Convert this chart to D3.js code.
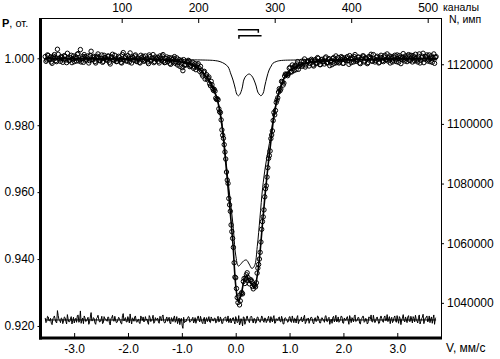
<!DOCTYPE html>
<html><head><meta charset="utf-8">
<script src="https://cdn.jsdelivr.net/npm/d3@7"></script>
<style>
body{margin:0;background:#fff}
svg{display:block}
text{font-family:"Liberation Sans",Arial,sans-serif;fill:#000}
</style>
</head><body>
<svg id="c" width="500" height="359"></svg>
<script>
// ---- tick values ----
const channelTicks = [100, 200, 300, 400, 500];
const velocityTicks = [-3, -2, -1, 0, 1, 2, 3];
const pTicks = [0.92, 0.94, 0.96, 0.98, 1.00];
const countTicks = [1040000, 1060000, 1080000, 1100000, 1120000];
const baseCounts = 1122000;          // counts at P = 1
const residualBase = 0.9218;         // level of the residual trace

// ---- measured relative transmission, channels 0..511 ----
const transmission = [
1.0005,0.9991,0.9995,1.0010,1.0008,0.9996,0.9997,1.0004,0.9989,0.9985,1.0002,1.0006,1.0011,1.0001,0.9993,0.9990,
1.0027,1.0012,1.0000,0.9998,0.9991,1.0005,1.0003,0.9988,0.9996,1.0008,1.0006,0.9995,0.9987,1.0015,1.0001,0.9993,
0.9994,1.0002,1.0009,0.9987,0.9998,1.0007,0.9990,1.0000,1.0004,0.9992,1.0012,1.0014,0.9992,0.9997,1.0026,0.9989,
0.9999,1.0005,0.9988,1.0011,1.0005,0.9994,0.9996,1.0001,1.0007,0.9986,0.9993,1.0008,1.0021,0.9996,0.9997,1.0006,
1.0003,0.9990,0.9986,1.0003,1.0006,1.0013,1.0001,0.9993,0.9994,1.0000,1.0010,0.9988,0.9991,1.0009,1.0002,1.0001,
0.9997,0.9994,1.0007,1.0006,0.9988,0.9983,1.0003,1.0004,1.0012,0.9996,0.9994,1.0009,0.9998,0.9990,0.9991,0.9998,
1.0006,1.0003,0.9996,0.9988,0.9986,1.0011,1.0017,0.9995,1.0001,1.0005,0.9992,0.9992,1.0008,1.0000,0.9989,1.0016,
0.9999,0.9986,1.0004,1.0002,0.9994,1.0007,1.0010,0.9992,0.9990,0.9997,0.9999,0.9988,0.9986,1.0009,1.0002,0.9996,
1.0006,0.9991,0.9994,1.0007,0.9997,1.0000,0.9989,0.9984,1.0010,1.0005,0.9992,0.9995,1.0001,1.0011,0.9987,0.9990,
1.0004,0.9998,0.9998,1.0003,0.9991,0.9986,1.0007,1.0000,0.9994,1.0007,1.0011,0.9992,0.9987,0.9988,0.9999,1.0004,
0.9990,0.9996,1.0002,0.9985,0.9982,1.0001,0.9996,0.9989,1.0000,1.0005,0.9985,0.9989,1.0001,0.9980,0.9988,0.9996,
0.9976,0.9991,0.9994,0.9972,0.9963,0.9996,0.9979,0.9982,0.9980,0.9989,0.9989,0.9994,0.9992,0.9975,0.9977,0.9979,
0.9983,0.9988,0.9970,0.9974,0.9984,0.9966,0.9974,0.9980,0.9984,0.9971,0.9961,0.9976,0.9964,0.9953,0.9947,0.9959,
0.9961,0.9938,0.9947,0.9951,0.9936,0.9940,0.9944,0.9924,0.9918,0.9931,0.9921,0.9910,0.9904,0.9907,0.9902,0.9881,
0.9877,0.9879,0.9876,0.9849,0.9840,0.9838,0.9816,0.9786,0.9770,0.9761,0.9742,0.9720,0.9699,0.9660,0.9636,0.9626,
0.9581,0.9562,0.9543,0.9502,0.9482,0.9462,0.9435,0.9389,0.9346,0.9344,0.9312,0.9285,0.9270,0.9290,0.9263,0.9275,
0.9296,0.9300,0.9296,0.9333,0.9342,0.9327,0.9341,0.9353,0.9359,0.9345,0.9336,0.9326,0.9337,0.9338,0.9333,0.9318,
0.9311,0.9324,0.9321,0.9317,0.9329,0.9358,0.9373,0.9384,0.9400,0.9420,0.9451,0.9489,0.9512,0.9526,0.9547,0.9586,
0.9610,0.9619,0.9645,0.9673,0.9701,0.9709,0.9723,0.9760,0.9771,0.9783,0.9814,0.9838,0.9831,0.9844,0.9868,0.9875,
0.9882,0.9899,0.9909,0.9903,0.9908,0.9931,0.9929,0.9920,0.9926,0.9947,0.9953,0.9951,0.9952,0.9948,0.9954,0.9970,
0.9973,0.9960,0.9959,0.9980,0.9971,0.9963,0.9977,0.9977,0.9966,0.9983,0.9990,0.9967,0.9976,0.9980,0.9982,0.9991,
0.9976,0.9980,0.9991,0.9998,0.9974,0.9980,0.9990,0.9989,0.9993,0.9977,0.9985,0.9994,0.9997,0.9992,0.9980,0.9977,
0.9992,0.9996,0.9984,0.9987,1.0002,1.0000,0.9989,0.9981,0.9981,0.9995,0.9997,0.9991,0.9990,0.9983,1.0001,1.0004,
0.9987,0.9986,0.9996,0.9999,0.9978,0.9989,0.9993,0.9981,0.9999,1.0002,0.9985,0.9995,1.0007,0.9987,0.9990,1.0002,
0.9986,0.9989,0.9997,1.0005,1.0002,0.9985,0.9985,1.0001,0.9996,0.9994,1.0001,1.0005,0.9993,0.9982,1.0008,0.9999,
0.9987,1.0002,0.9998,0.9989,1.0005,1.0011,0.9991,0.9993,0.9996,1.0004,1.0003,0.9986,0.9984,0.9998,1.0001,1.0007,
1.0007,0.9989,0.9992,1.0001,0.9998,0.9984,0.9987,1.0005,1.0004,1.0000,1.0012,0.9992,0.9991,1.0011,0.9998,0.9989,
0.9994,1.0003,1.0006,0.9997,0.9986,0.9988,1.0003,1.0009,1.0001,0.9993,0.9990,1.0004,1.0009,0.9995,0.9996,1.0013,
0.9992,1.0001,1.0007,0.9986,1.0000,1.0005,0.9989,0.9994,1.0004,1.0009,0.9995,0.9990,1.0010,0.9999,0.9988,1.0008,
1.0003,0.9984,0.9998,1.0004,1.0014,0.9997,0.9992,1.0007,1.0000,0.9990,1.0007,1.0011,0.9994,0.9993,1.0009,1.0001,
0.9989,1.0008,1.0004,0.9992,1.0012,1.0000,0.9995,0.9989,1.0006,1.0013,0.9986,0.9994,1.0002,1.0006,1.0015,0.9987,
0.9997,1.0004,1.0005,1.0010,0.9992,0.9996,1.0010,0.9990,1.0001,1.0007,0.9988,1.0002,1.0013,0.9985,1.0003,1.0005
];

// ---- residuals (data - fit), channels 0..511, in units of 1e-4 ----
const residuals = [
6,-8,-4,11,9,-3,-2,5,-10,-14,3,7,12,2,-6,-9, 28,13,1,-1,-8,6,4,-11,-3,9,7,-4,-12,16,2,-6,
-5,3,10,-12,-1,8,-9,1,5,-7,13,15,-7,-2,27,-10, 0,6,-11,12,6,-5,-3,2,8,-13,-6,9,22,-3,-2,7,
4,-9,-13,4,7,14,2,-6,-5,1,11,-11,-8,10,3,3, -1,-4,9,8,-10,-15,5,6,14,-2,-4,11,0,-8,-7,0,
8,5,-2,-10,-12,13,19,-3,3,7,-6,-6,10,2,-9,18, 1,-12,6,4,-4,9,12,-5,-7,0,2,-9,-11,12,5,-1,
9,-6,-3,10,0,3,-8,-13,13,8,-5,-2,4,14,-10,-7, 7,1,1,6,-6,-10,11,4,-2,11,15,-4,-9,-8,3,9,
-4,2,8,-9,-12,7,2,-5,6,12,-7,-3,10,-11,-3,6, -14,1,5,-16,-25,8,-8,-4,-6,3,4,10,9,-7,-5,-2,
3,8,-9,-4,7,-10,-1,6,12,1,-6,11,2,-7,-11,3, 8,-12,0,7,-5,2,10,-6,-8,9,4,-2,-3,5,6,-9,
-7,4,11,-6,-4,9,2,-11,-10,3,6,7,9,-5,-3,12, -8,-2,5,-9,-2,6,7,-4,-12,10,3,-8,-6,13,-15,-10,
4,-3,-18,9,8,-13,-5,6,12,2,-2,-8,7,11,10,-4, -9,5,3,-10,-6,8,9,0,-4,-7,1,12,8,-3,-7,6,
5,-8,-3,4,11,-2,-8,10,2,-6,6,13,-10,-9,4,1, -1,7,9,-4,-6,11,3,-12,-12,5,7,2,0,-7,-4,9,
10,-5,-7,12,2,-8,5,3,-9,7,13,-11,-3,0,1,9, -6,-3,8,14,-11,-6,4,2,6,-10,-2,6,9,4,-8,-12,
3,7,-5,-3,12,10,-1,-9,-9,5,7,1,0,-7,11,13, -4,-5,5,8,-13,-2,2,-10,8,11,-6,3,14,-6,-3,9,
-7,-4,4,12,9,-9,-10,6,1,-1,6,10,-2,-13,13,4, -8,7,3,-6,10,15,-5,-3,0,8,7,-10,-12,2,5,11,
11,-7,-4,5,2,-12,-9,9,8,3,15,-5,-6,14,1,-8, -3,6,9,0,-11,-9,6,12,4,-4,-7,7,12,-2,-1,16,
-5,4,10,-11,3,8,-8,-3,7,12,-2,-7,13,1,-10,10, 5,-14,0,6,16,-1,-6,9,2,-8,9,13,-4,-5,11,3,
-9,10,6,-6,14,2,-3,-9,8,15,-12,-4,4,8,17,-11, -1,6,7,12,-6,-2,12,-8,3,9,-10,4,15,-13,5,7
];

// ---- fitted envelope (velocity mm/s, P) ----
const fitV = [-3.54,-2.5,-1.5,-1.0,-0.8,-0.7,-0.6,-0.5,-0.45,-0.4,-0.35,-0.3,-0.25,-0.2,-0.15,-0.1,-0.05,0.0,0.05,0.1,0.15,0.2,0.25,0.3,0.35,0.4,0.45,0.5,0.55,0.6,0.65,0.7,0.75,0.8,0.9,1.0,1.2,1.5,2.0,2.5,3.0,3.74];
const fitTotal = [1.0000,0.9999,0.9997,0.9989,0.9980,0.9972,0.9956,0.9935,0.9920,0.9902,0.9881,0.9845,0.9792,0.9714,0.9627,0.9538,0.9442,0.9322,0.9272,0.9293,0.9332,0.9351,0.9335,0.9323,0.9317,0.9350,0.9418,0.9511,0.9600,0.9678,0.9747,0.9815,0.9863,0.9896,0.9941,0.9962,0.9981,0.9990,0.9995,0.9997,0.9999,0.9999];
// main doublet sub-spectrum
const mainP = [1.0000,0.9999,0.9997,0.9989,0.9980,0.9972,0.9956,0.9935,0.9920,0.9903,0.9883,0.9849,0.9800,0.9726,0.9646,0.9574,0.9502,0.9412,0.9379,0.9386,0.9395,0.9397,0.9385,0.9372,0.9380,0.9437,0.9523,0.9613,0.9675,0.9723,0.9769,0.9825,0.9867,0.9898,0.9941,0.9962,0.9981,0.9990,0.9995,0.9997,0.9999,0.9999];
// weak doublet sub-spectrum
const weakV = [-3.54,-0.66,-0.38,-0.29,-0.20,-0.14,-0.09,-0.05,-0.01,0.02,0.05,0.08,0.12,0.15,0.19,0.25,0.30,0.34,0.38,0.41,0.45,0.47,0.51,0.54,0.58,0.62,0.66,0.69,0.75,0.82,1.19,3.74];
const weakP = [0.9995,0.9995,0.9993,0.9990,0.9983,0.9974,0.9953,0.9935,0.9911,0.9893,0.9888,0.9893,0.9911,0.9935,0.9947,0.9953,0.9947,0.9935,0.9917,0.9899,0.9890,0.9888,0.9896,0.9917,0.9944,0.9965,0.9977,0.9985,0.9990,0.9993,0.9995,0.9995];
// line-position markers (velocity pairs) and their levels
const markerLines = [[0.04, 0.42], [0.06, 0.48]];
const markerLevels = [1.0085, 1.0067];

// ---- layout ----
const L = 40.5, R = 441, T = 18, B = 338;
const svg = d3.select("#c");

const xCh = d3.scaleLinear().domain([-6.8, 517.4]).range([L - 0.5, R]);
const xV = d3.scaleLinear().domain([-3.634, 3.812]).range([L - 0.5, R]);
const yP = d3.scaleLinear().domain([0.91641, 1.01204]).range([B, T]);
const yN = d3.scaleLinear().domain([0.91641 * baseCounts, 1.01204 * baseCounts]).range([B, T]);

// ---- axes ----
const fs = "12px";
const gTop = svg.append("g").attr("transform", `translate(0,${T})`)
  .call(d3.axisTop(xCh).tickValues(channelTicks).tickSizeInner(-5).tickSizeOuter(0).tickPadding(6));
const gBot = svg.append("g").attr("transform", `translate(0,${B})`)
  .call(d3.axisBottom(xV).tickValues(velocityTicks).tickSizeInner(-5).tickSizeOuter(0).tickPadding(6)
    .tickFormat(d => d.toFixed(1)));
const gLeft = svg.append("g").attr("transform", `translate(${L},0)`)
  .call(d3.axisLeft(yP).tickValues(pTicks).tickSizeInner(3).tickSizeOuter(0).tickPadding(3)
    .tickFormat(d => d.toFixed(3)));
const gRight = svg.append("g").attr("transform", `translate(${R},0)`)
  .call(d3.axisRight(yN).tickValues(countTicks).tickSizeInner(3).tickSizeOuter(0).tickPadding(3)
    .tickFormat(d3.format("d")));
[gTop, gBot, gLeft, gRight].forEach(g => {
  g.select(".domain").remove();
  g.selectAll("line").attr("stroke", "#000").attr("stroke-width", 1);
  g.selectAll("text").attr("font-size", fs).attr("font-family", '"Liberation Sans",Arial,sans-serif').attr("fill", "#000");
});

// frame
svg.append("line").attr("x1", L).attr("x2", R).attr("y1", T + 0.5).attr("y2", T + 0.5).attr("stroke", "#000");
svg.append("line").attr("x1", R + 0.5).attr("x2", R + 0.5).attr("y1", T).attr("y2", B).attr("stroke", "#000");
svg.append("line").attr("x1", L).attr("x2", L).attr("y1", T).attr("y2", B + 1.5).attr("stroke", "#000").attr("stroke-width", 3);
svg.append("line").attr("x1", L - 1.5).attr("x2", R + 1).attr("y1", B).attr("y2", B).attr("stroke", "#000").attr("stroke-width", 3);

// axis titles
const t1 = svg.append("text").attr("x", 2).attr("y", 27).attr("font-size", "11px");
t1.append("tspan").attr("font-weight", "bold").text("P");
t1.append("tspan").text(", от.");
svg.append("text").attr("x", 443).attr("y", 10.5).attr("font-size", "10.5px").text("каналы");
svg.append("text").attr("x", 449).attr("y", 23).attr("font-size", "10.5px").text("N, имп");
svg.append("text").attr("x", 446).attr("y", 352).attr("font-size", "12px").text("V, мм/с");

// ---- data points ----
const pts = transmission.map((p, i) => ({ch: i, p, r: residuals[i] * 1e-4}));
svg.append("g").selectAll("circle").data(pts).join("circle")
  .attr("cx", d => xCh(d.ch)).attr("cy", d => yP(d.p)).attr("r", 2.2)
  .attr("fill", "none").attr("stroke", "#000").attr("stroke-width", 1);

// ---- fit curves ----
const curve = d3.curveCatmullRom.alpha(0.5);
const lineVP = d3.line().x(d => xV(d[0])).y(d => yP(d[1])).curve(curve);
svg.append("path").attr("d", lineVP(weakV.map((v, i) => [v, weakP[i]])))
  .attr("fill", "none").attr("stroke", "#000").attr("stroke-width", 1);
svg.append("path").attr("d", lineVP(fitV.map((v, i) => [v, mainP[i]])))
  .attr("fill", "none").attr("stroke", "#000").attr("stroke-width", 1);
svg.append("path").attr("d", lineVP(fitV.map((v, i) => [v, fitTotal[i]])))
  .attr("fill", "none").attr("stroke", "#000").attr("stroke-width", 1.6);

// ---- residuals ----
svg.append("line").attr("x1", xCh(0)).attr("x2", xCh(511)).attr("y1", yP(residualBase)).attr("y2", yP(residualBase))
  .attr("stroke", "#000");
svg.append("path").attr("d", d3.line().x(d => xCh(d.ch)).y(d => yP(residualBase + d.r))(pts))
  .attr("fill", "none").attr("stroke", "#000").attr("stroke-width", 1);

// ---- line-position markers ----
markerLines.forEach((m, k) => {
  const y = yP(markerLevels[k]);
  const x1 = xV(m[0]), x2 = xV(m[1]);
  const p = k === 0 ? `M${x1},${y}H${x2}V${y + 3}` : `M${x1},${y + 3}V${y}H${x2}`;
  svg.append("path").attr("d", p).attr("fill", "none").attr("stroke", "#000").attr("stroke-width", 1.5);
});
</script>
</body></html>
